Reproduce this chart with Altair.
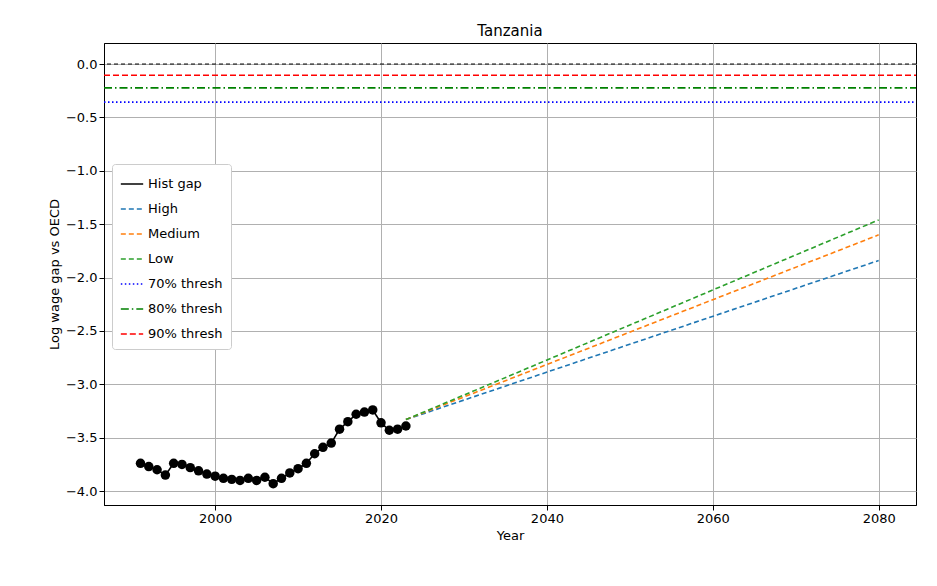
import altair as alt
import pandas as pd

hist_years = list(range(1991, 2024))
hist_gap = [-3.74, -3.77, -3.80, -3.85, -3.74, -3.75, -3.78, -3.81, -3.84, -3.86,
            -3.88, -3.89, -3.90, -3.88, -3.90, -3.87, -3.93, -3.88, -3.83, -3.79,
            -3.74, -3.65, -3.59, -3.55, -3.42, -3.35, -3.28, -3.26, -3.24, -3.36,
            -3.43, -3.42, -3.39]
proj_years = [2023, 2080]
proj_start = -3.33
proj_end = {"High": -1.84, "Medium": -1.60, "Low": -1.46}
thresh = {"70% thresh": -0.357, "80% thresh": -0.223, "90% thresh": -0.105}

series = ["Hist gap", "High", "Medium", "Low", "70% thresh", "80% thresh", "90% thresh"]
colors = ["black", "#1f77b4", "#ff7f0e", "#2ca02c", "blue", "green", "red"]
dashes = [[1, 0], [5, 3], [5, 3], [5, 3], [1.5, 2.5], [8, 3, 1.5, 3], [6, 3]]

hist = pd.DataFrame({"Year": hist_years, "gap": hist_gap, "series": "Hist gap"})
rows = []
for k, v in proj_end.items():
    rows += [{"Year": proj_years[0], "gap": proj_start, "series": k},
             {"Year": proj_years[1], "gap": v, "series": k}]
for k, v in thresh.items():
    rows += [{"Year": 1986.6, "gap": v, "series": k},
             {"Year": 2084.5, "gap": v, "series": k}]
lines = pd.concat([hist, pd.DataFrame(rows)])

xs = alt.Scale(domain=[1986.6, 2084.5], nice=False, zero=False)
ys = alt.Scale(domain=[-4.13, 0.197], nice=False, zero=False)
X = alt.X("Year:Q", scale=xs, title="Year",
          axis=alt.Axis(values=[2000, 2020, 2040, 2060, 2080], format="d", gridColor="#b0b0b0"))
Y = alt.Y("gap:Q", scale=ys, title="Log wage gap vs OECD",
          axis=alt.Axis(values=[-4, -3.5, -3, -2.5, -2, -1.5, -1, -0.5, 0], format=".1f", gridColor="#b0b0b0"))

line = alt.Chart(lines).mark_line(strokeWidth=1.6, clip=True).encode(
    x=X, y=Y,
    color=alt.Color("series:N", scale=alt.Scale(domain=series, range=colors), sort=series,
                    legend=alt.Legend(title=None, orient="none", legendX=8, legendY=121,
                                      symbolType="stroke", symbolSize=500, symbolStrokeWidth=1.6,
                                      labelFontSize=13, fillColor="white", strokeColor="#ccc",
                                      padding=8, cornerRadius=3, rowPadding=6)),
    strokeDash=alt.StrokeDash("series:N", scale=alt.Scale(domain=series, range=dashes), sort=series, legend=None),
    detail="series:N",
)
pts = alt.Chart(hist).mark_circle(size=90, color="black", opacity=1).encode(x=X, y="gap:Q")
zero = alt.Chart(pd.DataFrame({"y": [0]})).mark_rule(color="black", strokeDash=[4, 3], strokeWidth=1).encode(y=alt.Y("y:Q", scale=ys))

chart = alt.layer(zero, line, pts).properties(
    width=812, height=462,
    title=alt.TitleParams("Tanzania", fontSize=15, fontWeight="normal", font="DejaVu Sans"),
    padding={"left": 40, "top": 16, "right": 5, "bottom": 5},
).configure_axis(
    labelFontSize=13, titleFontSize=13, labelFont="DejaVu Sans", titleFont="DejaVu Sans",
    titleFontWeight="normal", domainColor="black", tickColor="black", labelColor="black",
).configure_legend(labelFont="DejaVu Sans").configure_view(stroke="black")

chart.save("out.html", embed_options={"renderer": "svg", "actions": False})
